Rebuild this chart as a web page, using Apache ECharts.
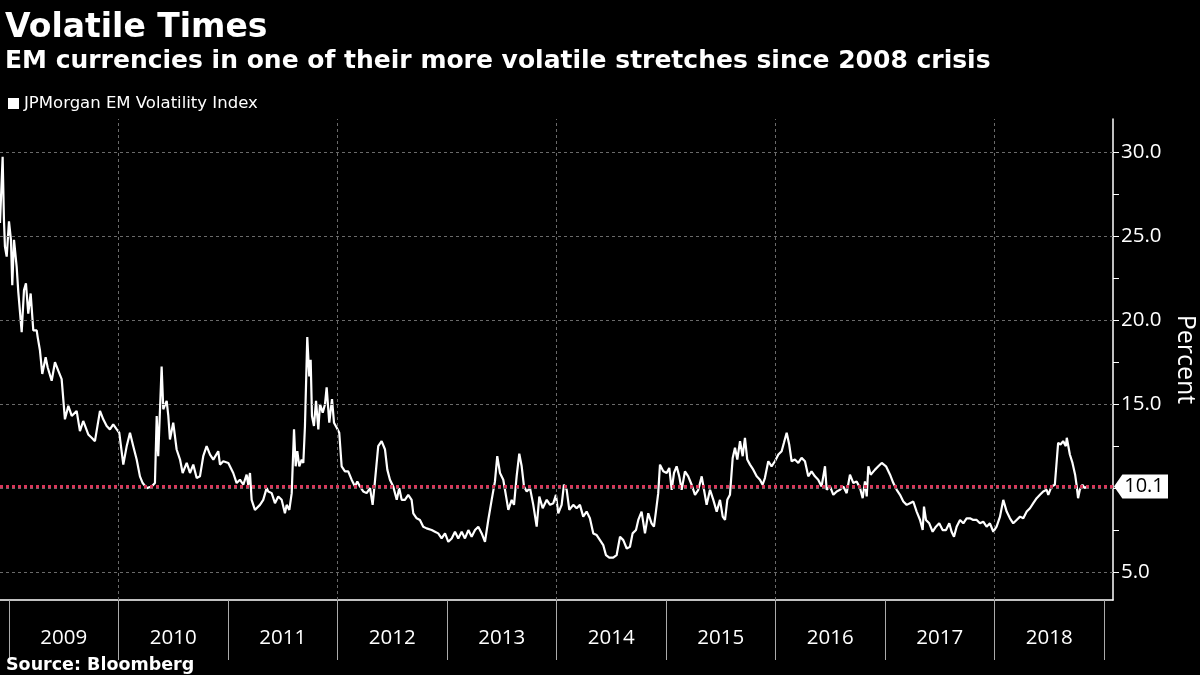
<!DOCTYPE html>
<html><head><meta charset="utf-8">
<script src="https://cdn.jsdelivr.net/npm/echarts@6/dist/echarts.min.js"></script>
<style>html,body{margin:0;padding:0;background:#000}#c{width:1200px;height:675px}</style>
</head><body><div id="c"></div>
<script>
// Dates as decimal years
const dates = [
2008.918,2008.942,2008.954,2008.963,2008.979,2009.000,2009.018,2009.030,2009.046,2009.070,2009.085,2009.116,2009.137,2009.155,2009.176,2009.198,2009.222,2009.253,2009.262,2009.283,2009.304,2009.335,2009.353,2009.390,2009.420,2009.450,2009.481,2009.511,2009.542,2009.573,2009.618,2009.648,2009.678,2009.724,2009.755,2009.785,2009.831,2009.861,2009.892,2009.922,2009.952,2009.984,
2010.007,2010.044,2010.075,2010.105,2010.135,2010.166,2010.196,2010.221,2010.258,2010.303,2010.333,2010.349,2010.363,2010.394,2010.409,2010.440,2010.455,2010.470,2010.500,2010.531,2010.562,2010.586,2010.623,2010.653,2010.683,2010.714,2010.744,2010.774,2010.805,2010.836,2010.866,2010.911,2010.927,2010.957,
2011.003,2011.048,2011.079,2011.109,2011.140,2011.170,2011.185,2011.201,2011.216,2011.246,2011.292,2011.322,2011.353,2011.368,2011.399,2011.429,2011.459,2011.490,2011.520,2011.536,2011.560,2011.582,2011.603,2011.618,2011.633,2011.651,2011.673,2011.688,2011.703,2011.724,2011.742,2011.755,2011.767,2011.785,2011.804,2011.825,2011.840,2011.865,2011.886,2011.901,2011.925,2011.950,2011.968,2011.993,
2012.016,2012.038,2012.068,2012.098,2012.129,2012.160,2012.181,2012.205,2012.235,2012.266,2012.297,2012.321,2012.342,2012.372,2012.403,2012.434,2012.455,2012.479,2012.509,2012.541,2012.564,2012.586,2012.616,2012.646,2012.677,2012.692,2012.723,2012.753,2012.783,2012.814,2012.860,2012.890,2012.920,2012.951,2012.982,
2013.012,2013.043,2013.073,2013.103,2013.134,2013.164,2013.195,2013.225,2013.256,2013.286,2013.317,2013.347,2013.377,2013.408,2013.438,2013.459,2013.484,2013.514,2013.545,2013.560,2013.591,2013.612,2013.636,2013.660,2013.682,2013.703,2013.728,2013.758,2013.788,2013.819,2013.843,2013.874,2013.911,2013.941,2013.971,2013.995,
2014.016,2014.047,2014.068,2014.093,2014.117,2014.153,2014.184,2014.214,2014.244,2014.275,2014.305,2014.336,2014.367,2014.397,2014.427,2014.452,2014.482,2014.518,2014.549,2014.580,2014.610,2014.641,2014.671,2014.695,2014.726,2014.747,2014.777,2014.808,2014.838,2014.868,2014.890,2014.908,2014.929,2014.945,2014.975,
2015.006,2015.030,2015.052,2015.073,2015.097,2015.121,2015.143,2015.173,2015.203,2015.234,2015.265,2015.295,2015.326,2015.347,2015.371,2015.402,2015.432,2015.463,2015.493,2015.518,2015.539,2015.560,2015.584,2015.609,2015.630,2015.651,2015.676,2015.700,2015.721,2015.742,2015.767,2015.797,2015.828,2015.858,2015.882,2015.903,2015.934,2015.964,2015.995,
2016.026,2016.056,2016.077,2016.102,2016.125,2016.147,2016.177,2016.208,2016.238,2016.269,2016.299,2016.329,2016.360,2016.390,2016.421,2016.452,2016.467,2016.498,2016.528,2016.559,2016.589,2016.619,2016.650,2016.680,2016.711,2016.741,2016.772,2016.796,2016.817,2016.833,2016.848,2016.869,2016.909,2016.939,2016.970,
2017.009,2017.046,2017.076,2017.107,2017.137,2017.167,2017.198,2017.228,2017.258,2017.289,2017.320,2017.344,2017.356,2017.374,2017.404,2017.435,2017.465,2017.495,2017.526,2017.557,2017.587,2017.608,2017.630,2017.654,2017.685,2017.715,2017.745,2017.776,2017.806,2017.837,2017.867,2017.897,2017.928,2017.958,2017.989,
2018.019,2018.050,2018.080,2018.111,2018.141,2018.171,2018.202,2018.233,2018.263,2018.294,2018.324,2018.354,2018.385,2018.415,2018.445,2018.476,2018.491,2018.521,2018.551,2018.581,2018.603,2018.627,2018.651,2018.660,2018.688,2018.712,2018.736,2018.751,2018.763,2018.779,2018.803,2018.823,2018.845
];
const values = [
25.8,29.75,26.0,24.4,23.8,25.9,24.8,22.1,24.8,23.2,21.7,19.3,21.8,22.2,20.4,21.6,19.4,19.4,19.0,18.2,16.8,17.8,17.2,16.4,17.5,17.0,16.5,14.1,14.9,14.3,14.6,13.4,14.0,13.2,13.0,12.8,14.6,14.1,13.7,13.5,13.8,13.5,
13.3,11.4,12.5,13.3,12.5,11.7,10.7,10.3,10.0,10.1,10.3,14.3,11.9,17.25,14.7,15.2,14.3,12.9,13.9,12.3,11.7,10.9,11.5,10.9,11.4,10.6,10.7,11.9,12.5,12.0,11.7,12.2,11.4,11.6,
11.5,10.9,10.3,10.5,10.2,10.8,10.2,10.9,9.3,8.7,9.0,9.3,10.0,9.8,9.7,9.1,9.5,9.3,8.5,9.0,8.7,9.7,13.5,11.3,12.2,11.3,11.7,11.5,13.7,19.0,16.65,17.65,14.3,13.7,15.2,13.5,15.0,14.5,15.0,16.0,13.9,15.3,13.9,13.6,
13.3,11.3,11.0,11.0,10.5,10.1,10.4,10.1,9.8,9.7,10.0,9.0,10.4,12.5,12.8,12.3,11.1,10.5,10.1,9.3,10.0,9.3,9.3,9.6,9.3,8.5,8.2,8.1,7.7,7.6,7.5,7.4,7.3,7.0,7.3,
6.8,7.0,7.4,7.0,7.4,7.0,7.5,7.1,7.5,7.7,7.3,6.8,8.1,9.3,10.4,11.9,10.9,10.5,9.3,8.7,9.3,9.0,10.7,12.05,11.3,10.1,9.8,10.0,9.0,7.7,9.5,8.8,9.3,9.0,9.1,9.6,
8.5,9.0,10.2,9.9,8.7,9.0,8.8,9.0,8.3,8.6,8.2,7.3,7.2,6.9,6.6,6.0,5.85,5.85,6.0,7.1,6.9,6.4,6.5,7.3,7.5,8.1,8.6,7.3,8.5,7.9,7.7,8.6,9.7,11.4,11.0,
10.9,11.2,9.9,10.9,11.3,10.7,9.9,11.0,10.7,10.2,9.6,9.9,10.7,9.9,9.0,9.9,9.3,8.6,9.3,8.3,8.1,9.3,9.6,11.8,12.4,11.7,12.8,11.9,13.0,11.7,11.4,11.1,10.7,10.5,10.2,10.6,11.6,11.3,11.6,
12.0,12.2,12.7,13.3,12.6,11.6,11.7,11.5,11.8,11.6,10.7,11.0,10.7,10.5,10.1,11.3,9.9,10.1,9.6,9.8,9.9,10.1,9.7,10.8,10.3,10.4,10.0,9.4,10.4,9.5,11.3,10.8,11.1,11.3,11.5,
11.3,10.8,10.3,9.9,9.6,9.2,9.0,9.1,9.2,8.6,8.1,7.5,8.9,8.1,7.9,7.4,7.7,7.9,7.5,7.5,7.9,7.4,7.1,7.7,8.1,7.9,8.2,8.2,8.1,8.1,7.9,8.0,7.7,7.9,7.4,
7.7,8.3,9.3,8.6,8.2,7.9,8.1,8.3,8.2,8.6,8.8,9.1,9.4,9.6,9.8,9.9,9.6,10.1,10.2,12.7,12.6,12.8,12.5,13.0,12.0,11.5,10.8,10.1,9.4,9.9,10.2,10.0,10.1
];
const xTicks = [2009,2010,2011,2012,2013,2014,2015,2016,2017,2018,2019];
const yearLabelPos = [2009.5,2010.5,2011.5,2012.5,2013.5,2014.5,2015.5,2016.5,2017.5,2018.5];
const yTicks = [5,7.5,10,12.5,15,17.5,20,22.5,25,27.5,30];
const yLabels = [5,10,15,20,25,30];
const vGrid = [2010,2012,2014,2016,2018];
const hGrid = [5,10,15,20,25,30];
const seriesName = 'JPMorgan EM Volatility Index';

const X_MIN = 2008.918, X_MAX = 2019.082, Y_MIN = 3.33, Y_MAX = 32.0;
const lastVal = values[values.length - 1];
const lineData = dates.map((d, i) => [d, values[i]]);
const FONT = '"Open Sans", "Noto Sans", sans-serif';
const BOLD = '"DejaVu Sans", sans-serif';
const gridStyle = { color: '#6a6a6a', type: [3, 3], width: 1 };

const chart = echarts.init(document.getElementById('c'), null, { renderer: 'canvas' });
chart.setOption({
  backgroundColor: '#000',
  animation: false,
  title: [
    { text: 'Volatile Times', left: 0, top: 7, textStyle: { color: '#fff', fontFamily: BOLD, fontWeight: 'bold', fontSize: 33 } },
    { text: 'EM currencies in one of their more volatile stretches since 2008 crisis', left: 0, top: 44, textStyle: { color: '#fff', fontFamily: BOLD, fontWeight: 'bold', fontSize: 25 } },
    { text: 'Source: Bloomberg', left: 1, top: 651, textStyle: { color: '#fff', fontFamily: BOLD, fontWeight: 'bold', fontSize: 17.5 } }
  ],
  legend: {
    data: [seriesName], left: 3, top: 90, icon: 'rect', itemWidth: 11, itemHeight: 11, itemGap: 5,
    textStyle: { color: '#fff', fontFamily: BOLD, fontSize: 16.5 }
  },
  grid: { left: 0, right: 87, top: 119, bottom: 75, outerBoundsMode: 'none', containLabel: false },
  xAxis: {
    type: 'value', min: X_MIN, max: X_MAX,
    axisLine: { show: true, lineStyle: { color: '#fff', width: 1.5 } },
    axisTick: { show: true, customValues: xTicks, length: 60, lineStyle: { color: '#aaa', width: 1 } },
    axisLabel: { show: true, customValues: yearLabelPos, formatter: v => String(Math.floor(v)), color: '#fff', fontFamily: FONT, fontSize: 20.5, margin: 28 },
    splitLine: { show: false }
  },
  yAxis: {
    type: 'value', position: 'right', min: Y_MIN, max: Y_MAX,
    name: 'Percent', nameLocation: 'middle', nameRotate: -90, nameGap: 60,
    nameTextStyle: { color: '#fff', fontFamily: FONT, fontSize: 25 },
    axisLine: { show: true, lineStyle: { color: '#fff', width: 1.5 } },
    axisTick: { show: true, inside: false, customValues: yTicks, length: 6, lineStyle: { color: '#fff' } },
    axisLabel: { show: true, customValues: yLabels, formatter: v => v.toFixed(1), color: '#fff', fontFamily: FONT, fontSize: 20.5, margin: 8 },
    splitLine: { show: false }
  },
  series: [
    {
      name: 'grid', type: 'line', z: 1, silent: true,
      data: [[dates[0], values[0]]], showSymbol: false, lineStyle: { opacity: 0 },
      markLine: {
        silent: true, symbol: ['none', 'none'], label: { show: false }, lineStyle: gridStyle,
        data: vGrid.map(v => ({ xAxis: v })).concat(hGrid.map(v => ({ yAxis: v })))
      }
    },
    {
      name: seriesName, type: 'line', z: 2, data: lineData, showSymbol: false,
      lineStyle: { color: '#fff', width: 2.2 }, itemStyle: { color: '#fff' }
    },
    {
      name: 'last', type: 'line', z: 3, silent: true,
      data: [[dates[dates.length - 1], lastVal]], showSymbol: false, lineStyle: { opacity: 0 },
      markLine: {
        silent: true, symbol: ['none', 'none'], label: { show: false },
        lineStyle: { color: '#d9375a', type: 'dotted', width: 3 },
        data: [{ yAxis: lastVal }]
      },
      markPoint: {
        silent: true,
        symbol: 'path://M0,12 L9,0 L58,0 L58,24 L9,24 Z',
        symbolSize: [54, 24], symbolKeepAspect: false, symbolOffset: [28, 0],
        itemStyle: { color: '#fff' },
        label: { show: true, position: 'inside', offset: [3, 0], color: '#000', fontFamily: FONT, fontSize: 20, formatter: p => Number(p.value).toFixed(1) },
        data: [{ coord: [X_MAX, lastVal], value: lastVal }]
      }
    }
  ]
});
</script></body></html>
